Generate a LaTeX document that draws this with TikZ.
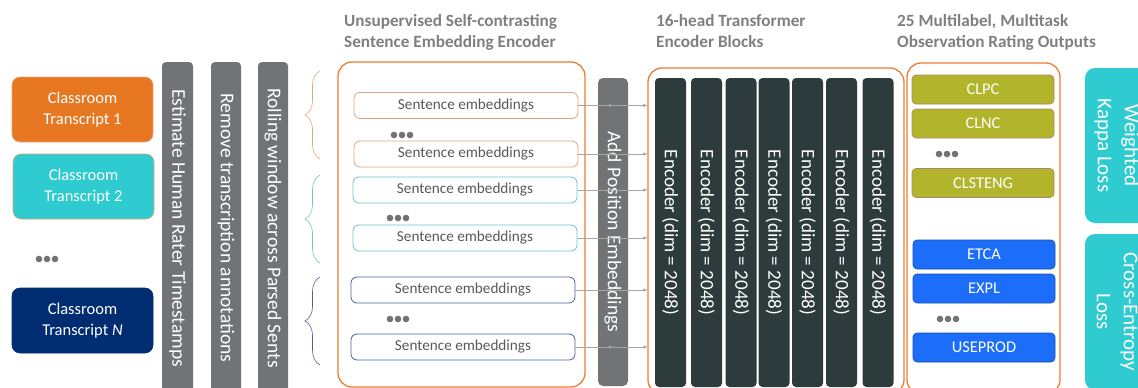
\documentclass[tikz,border=0pt]{standalone}
\usepackage{fontspec}
\setmainfont{Carlito}
\usetikzlibrary{calc,decorations.pathreplacing,arrows.meta}

\definecolor{corange}{HTML}{E87722}
\definecolor{cline}{HTML}{ED7D31}
\definecolor{ccyan}{HTML}{2ECBD0}
\definecolor{cnavy}{HTML}{002D72}
\definecolor{cbar}{HTML}{717376}
\definecolor{cenc}{HTML}{2E3B3C}
\definecolor{colive}{HTML}{B2B52B}
\definecolor{cblue}{HTML}{1C6EFA}
\definecolor{ctitle}{HTML}{7F7F7F}
\definecolor{ctext}{HTML}{595959}
\definecolor{sorange}{HTML}{E0A57A}
\definecolor{steal}{HTML}{6CC5C8}
\definecolor{snavy}{HTML}{4A639C}

\begin{document}
\begin{tikzpicture}[x=1pt,y=-1pt]

\tikzset{
  trans/.style={rounded corners=8pt, minimum width=141, minimum height=65, text=white,
    align=center, font=\fontsize{16.5}{21}\selectfont, line width=0.6pt},
  bar/.style={fill=cbar, rounded corners=4pt, rotate=-90, text=white, inner sep=0pt,
    font=\fontsize{19.5}{22}\selectfont},
  sent/.style={rounded corners=6pt, minimum width=224, minimum height=26, fill=white,
    text=ctext, font=\fontsize{15.2}{17}\selectfont, line width=0.8pt},
  enc/.style={fill=cenc, rounded corners=4pt, rotate=-90, minimum width=309,
    minimum height=31, text=white, inner sep=0pt, font=\fontsize{19}{22}\selectfont},
  rate/.style={rounded corners=4pt, minimum width=142, minimum height=29, text=white,
    font=\fontsize{16.4}{18}\selectfont, line width=0.6pt},
  loss/.style={fill=ccyan, rounded corners=10pt, rotate=-90, text=white, align=center,
    minimum height=64, font=\fontsize{21}{27}\selectfont},
  grp/.style={draw=cline, line width=1.3pt, rounded corners=14pt},
  title/.style={anchor=north west, align=left, text=ctitle, inner sep=0pt,
    font=\bfseries\fontsize{17.2}{21}\selectfont},
  arr/.style={draw=gray!70, line width=0.6pt, -{Triangle[length=4pt,width=3pt]}},
  brc/.style={decorate, decoration={brace, amplitude=15pt}, line width=0.6pt}
}

\useasboundingbox (0,0) rectangle (1138,388);
\clip (0,0) rectangle (1138,388);

\node[title] (t1) at (344,14) {Unsupervised Self-contrasting\\Sentence Embedding Encoder};
\node[title] (t2) at (656,14) {16-head Transformer\\Encoder Blocks};
\node[title] (t3) at (897,14) {25 Multilabel, Multitask\\Observation Rating Outputs};

\node[trans, fill=corange, draw=sorange] (ct1) at (82.5,109.5) {Classroom\\Transcript 1};
\node[trans, fill=ccyan, draw=sorange] (ct2) at (83.5,186.5) {Classroom\\Transcript 2};
\node[trans, fill=cnavy, draw=cnavy] (ctn) at (82.5,320.5) {Classroom\\Transcript \textit{N}};

\node[bar, minimum width=332, minimum height=31] (est) at (177.5,228) {Estimate Human Rater Timestamps};
\node[bar, minimum width=332, minimum height=30] (rem) at (226,228) {Remove transcription annotations};
\node[bar, minimum width=332, minimum height=30] (rol) at (273,228) {Rolling window across Parsed Sents};

\draw[brc, sorange] (320,159) -- (320,71);
\draw[brc, steal] (320,263) -- (320,175);
\draw[brc, snavy] (320,365) -- (320,277);

\node[grp, minimum width=247, minimum height=325] (senc) at (461.5,224.5) {};
\node[grp, minimum width=256, minimum height=326] (tenc) at (776,231) {};
\node[grp, minimum width=153, minimum height=331] (outs) at (983.5,228.5) {};

\foreach \n/\x/\y/\c in {1/466/105.5/sorange, 2/466/154/sorange, 3/465/190/steal,
    4/465/238/steal, 5/463/290/snavy, 6/463/347/snavy}
  \node[sent, draw=\c] (s\n) at (\x,\y) {Sentence embeddings};

\node[bar, minimum width=308, minimum height=30, rounded corners=5pt] (ape) at (613,232) {Add Position Embeddings};

\foreach \n in {1,...,6}
{
  \draw[arr] (s\n.east) -- (s\n.east -| ape.west);
  \draw[arr] (s\n.east -| ape.east) -- (s\n.east -| tenc.west);
}

\foreach \n/\x in {1/670.5, 2/706.5, 3/741, 4/774, 5/807.5, 6/841.5, 7/878}
  \node[enc] (e\n) at (\x,232.5) {Encoder (dim = 2048)};

\foreach \n/\y/\txt in {1/89.5/CLPC, 2/123.5/CLNC, 3/183/CLSTENG}
  \node[rate, fill=colive, draw=sorange!80!black] (r\n) at (983,\y) {\txt};
\foreach \n/\y/\txt in {4/254.5/ETCA, 5/288.5/EXPL, 6/347.5/USEPROD}
  \node[rate, fill=cblue, draw=cblue!70!black] (r\n) at (984,\y) {\txt};

\node[loss, minimum width=155] (kap) at (1117,145.5) {Weighted\\Kappa Loss};
\node[loss, minimum width=156] (ce) at (1117,312) {Cross-Entropy\\Loss};

\foreach \x/\y in {47/259, 402/135, 398/218, 398/319, 947/154, 948/319}
  \foreach \d in {-8,0,8}
    \fill[cbar] (\x+\d,\y) circle (3.3);

\end{tikzpicture}
\end{document}
